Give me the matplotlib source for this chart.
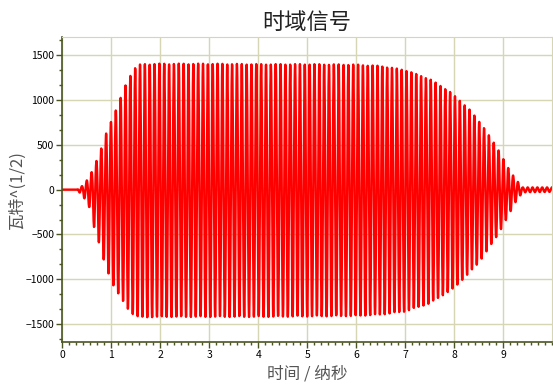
import numpy as np
import matplotlib
matplotlib.use("Agg")
import matplotlib.pyplot as plt
from matplotlib.ticker import MultipleLocator, AutoMinorLocator

plt.rcParams['font.family'] = ['Noto Sans CJK SC', 'DejaVu Sans']

# envelope of the positive half-waves (ns, W^(1/2))
upper_t = [0, 0.3, 0.45, 0.6, 0.7, 0.8, 0.9, 1.0, 1.1, 1.2, 1.3, 1.4, 1.5, 1.6,
           2.0, 3.0, 4.0, 5.0, 6.0, 6.5, 7.0, 7.5, 7.9, 8.3, 8.6, 8.9, 9.15, 9.3, 9.4, 10.0]
upper_a = [0, 0, 60, 200, 330, 470, 640, 770, 900, 1040, 1180, 1290, 1370, 1400,
           1405, 1405, 1400, 1400, 1395, 1380, 1335, 1235, 1100, 905, 700, 450, 200, 90, 25, 25]

# envelope of the negative half-waves
lower_t = [0, 0.3, 0.45, 0.55, 0.65, 0.75, 0.85, 0.95, 1.05, 1.15, 1.25, 1.35, 1.45, 1.55, 1.65,
           2.0, 3.0, 4.0, 5.0, 6.0, 6.5, 7.0, 7.5, 8.0, 8.5, 8.9, 9.1, 9.25, 9.4, 10.0]
lower_a = [0, 0, 100, 200, 430, 600, 800, 950, 1080, 1170, 1260, 1340, 1395, 1420, 1425,
           1420, 1420, 1420, 1415, 1410, 1395, 1360, 1270, 1100, 820, 500, 300, 145, 30, 25]

carrier_ghz = 10.1
sample_ns = 0.004

t = np.arange(0, 10 + sample_ns, sample_ns)
c = np.cos(2 * np.pi * carrier_ghz * t)
env = np.where(c > 0, np.interp(t, upper_t, upper_a), np.interp(t, lower_t, lower_a))
y = env * c

fig = plt.figure(figsize=(5.53, 3.87), dpi=100)
ax = fig.add_axes([0.113, 0.116, 0.885, 0.788])

ax.plot(t, y, color='#ff0000', lw=1.7)

ax.set_xlim(0, 10)
ax.set_ylim(-1700, 1700)
ax.xaxis.set_major_locator(MultipleLocator(1))
ax.xaxis.set_minor_locator(AutoMinorLocator(7))
ax.yaxis.set_major_locator(MultipleLocator(500))
ax.yaxis.set_minor_locator(AutoMinorLocator(3))
ax.set_xticks(range(10))

grid_col = '#d6d6b4'
axis_col = '#4a5522'
ax.grid(True, which='major', color=grid_col, lw=1)
ax.set_axisbelow(True)
for s in ['top', 'right']:
    ax.spines[s].set_color(grid_col)
for s in ['left', 'bottom']:
    ax.spines[s].set_color(axis_col)
    ax.spines[s].set_linewidth(1.2)
ax.tick_params(which='major', length=4, width=1, color=axis_col, labelsize=7.5, pad=2)
ax.tick_params(which='minor', length=2.5, width=1, color=axis_col)

ax.set_title('时域信号', fontsize=16, color='#222222', pad=6)
ax.set_xlabel('时间 / 纳秒', fontsize=12, color='#555555', labelpad=4)
ax.set_ylabel('瓦特^(1/2)', fontsize=12, color='#555555', labelpad=0)

fig.savefig('out.png', dpi=100)
